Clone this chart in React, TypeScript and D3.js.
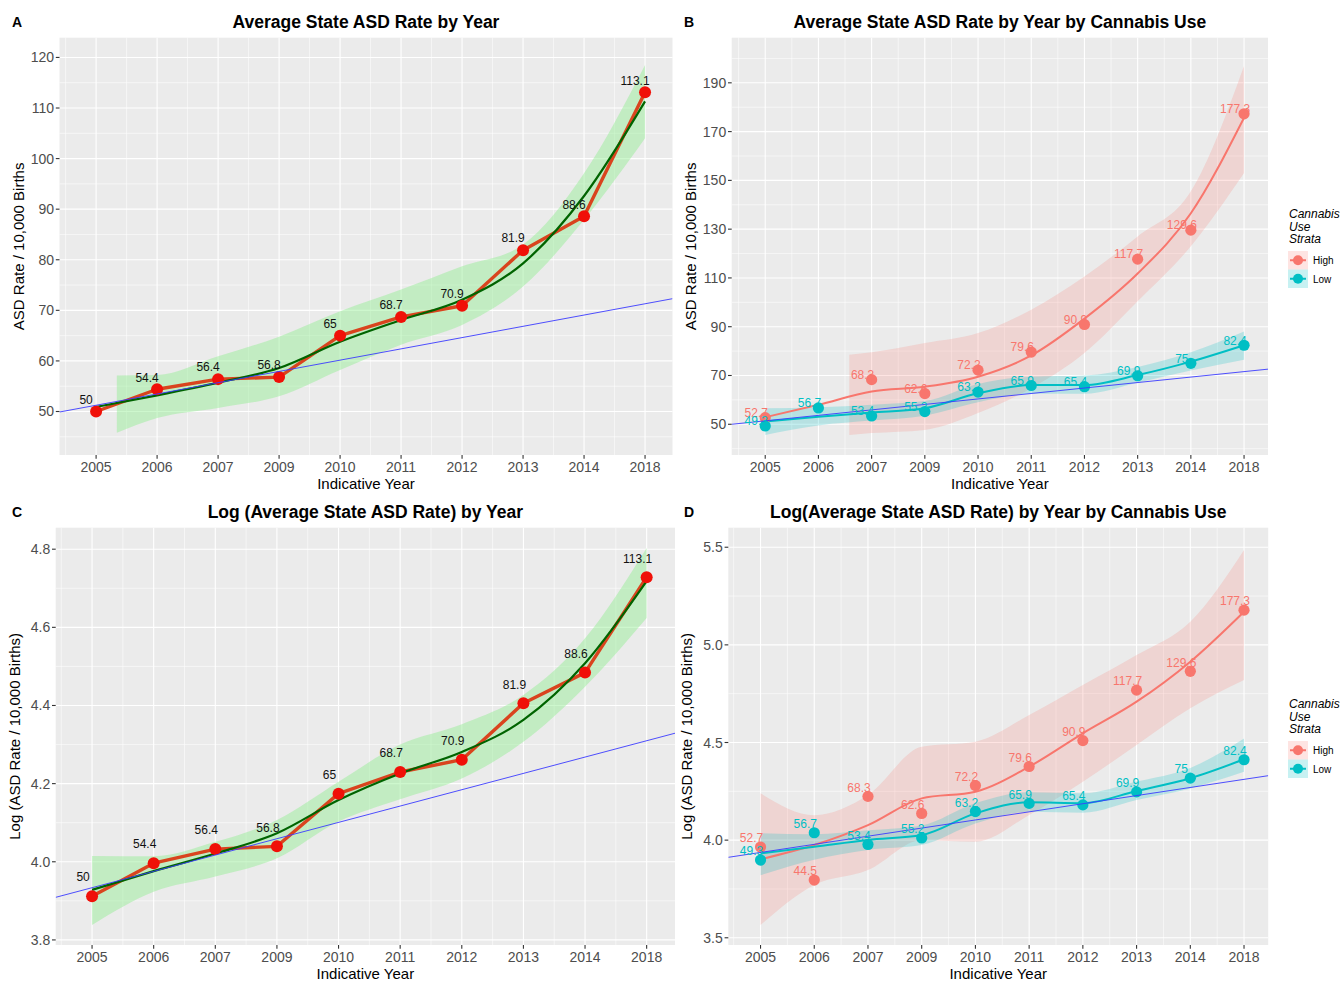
import React from 'react';
import * as d3 from 'd3';

// ---- data -------------------------------------------------------------
const years = ['2005', '2006', '2007', '2009', '2010', '2011', '2012', '2013', '2014', '2018'];
const rateAll = [50, 54.4, 56.4, 56.8, 65, 68.7, 70.9, 81.9, 88.6, 113.1];
const rateHigh = [52.7, 44.5, 68.3, 62.6, 72.2, 79.6, 90.9, 117.7, 129.6, 177.3];
const rateLow = [49.3, 56.7, 53.4, 55.2, 63.2, 65.9, 65.4, 69.9, 75, 82.4];
// panel B omits the 2006 high-use point
const rateHighB = [52.7, null, 68.3, 62.6, 72.2, 79.6, 90.9, 117.7, 129.6, 177.3];

const fitX = [0, 1, 2, 3, 4, 5, 6, 7, 8, 9];

// A: loess fit + band (raw)
const fitA = [50.9, 53.2, 55.7, 58.6, 63.8, 68.1, 72.1, 79.3, 92.6, 111.3];
const bandXA = [0.34, 1, 2, 3, 4, 5, 6, 7, 8, 9];
const bandHiA = [57.1, 57.2, 60.9, 64.8, 69.8, 74.1, 78.7, 83.0, 97.1, 118.5];
const bandLoA = [45.8, 48.7, 50.7, 53.0, 58.2, 63.2, 67.1, 74.7, 87.9, 104];
const refA = [49.9, 72.3];

// B: fits per strata (raw)
const fitHighB = [52.9, 58.0, 63.4, 65.4, 69.5, 78.2, 93.3, 111.8, 136.5, 175.7];
const bandXHighB = [1.58, 2, 3, 4, 5, 6, 7, 8, 9];
const bandHiHighB = [78.5, 79.5, 83.3, 87.4, 97, 110.6, 127, 145.5, 196.9];
const bandLoHighB = [45.6, 46.4, 47.7, 54.6, 64.8, 79.2, 100.4, 123, 153];
const fitLowB = [51.1, 53.1, 54.8, 56.6, 62.7, 66.1, 66.1, 70.2, 75.7, 82.4];
const bandHiLowB = [56.6, 57, 58, 59.5, 66.5, 69.5, 70, 73.5, 79.5, 88];
const bandLoLowB = [45.6, 49.5, 51.5, 53.5, 59, 62.5, 62.5, 67, 72, 76.5];
const refB = [50, 72.6];

// C: fit + band (log)
const fitC = [3.928, 3.976, 4.021, 4.073, 4.158, 4.226, 4.281, 4.363, 4.508, 4.718];
const bandHiC = [4.015, 4.014, 4.051, 4.107, 4.205, 4.300, 4.352, 4.427, 4.572, 4.803];
const bandLoC = [3.838, 3.923, 3.962, 4.009, 4.103, 4.160, 4.213, 4.307, 4.448, 4.624];
const refC = [3.909, 4.329];

// D: fits per strata (log)
const fitHighD = [3.902, 3.975, 4.077, 4.214, 4.248, 4.376, 4.547, 4.709, 4.914, 5.170];
const bandHiHighD = [4.240, 4.128, 4.231, 4.478, 4.504, 4.641, 4.795, 4.948, 5.119, 5.486];
const bandLoHighD = [3.565, 3.770, 3.847, 4.0, 3.992, 4.129, 4.299, 4.487, 4.675, 4.820];
const fitLowD = [3.932, 3.966, 4.001, 4.026, 4.137, 4.194, 4.189, 4.252, 4.317, 4.414];
const bandHiLowD = [4.035, 4.03, 4.05, 4.075, 4.19, 4.245, 4.24, 4.30, 4.37, 4.52];
const bandLoLowD = [3.82, 3.90, 3.95, 3.975, 4.085, 4.145, 4.14, 4.205, 4.265, 4.35];
const refD = [3.912, 4.330];

const strataLabels = ['High', 'Low'];

// ---- styles -------------------------------------------------------------
const FONT = 'Liberation Sans, Arial, sans-serif';
const HIGH = '#F8766D';
const LOW = '#00BFC4';

type Series = {
  values: (number | null)[];
  labels: (number | null)[];
  fit: number[];
  bandX: number[];
  bandHi: number[];
  bandLo: number[];
  fill: string;
  fillOpacity: number;
  fitColor: string;
  fitWidth: number;
  pointColor: string;
  labelColor: string;
  connect?: string;
  r: number;
};

type PanelProps = {
  id: string;
  letter: string;
  letterX: number;
  title: string;
  yTitle: string;
  left: number;
  right: number;
  top: number;
  bottom: number;
  xDomain: [number, number];
  yDomain: [number, number];
  yTicks: number[];
  yMinor: number[];
  yFmt: (v: number) => string;
  ref2: number[];
  series: Series[];
  labelDx: number;
  labelDy: number;
  legendY?: number;
};

function Panel(p: PanelProps) {
  const x = d3.scaleLinear().domain(p.xDomain).range([p.left, p.right]);
  const y = d3.scaleLinear().domain(p.yDomain).range([p.bottom, p.top]);
  const cx = (p.left + p.right) / 2;
  const cy = (p.top + p.bottom) / 2;
  const xMinor = d3.range(-0.5, p.xDomain[1], 1);
  const curve = d3.curveMonotoneX;

  return (
    <g>
      <defs>
        <clipPath id={`clip-${p.id}`}>
          <rect x={p.left} y={p.top} width={p.right - p.left} height={p.bottom - p.top} />
        </clipPath>
      </defs>
      <text x={p.letterX} y={p.top - 11} fontFamily={FONT} fontWeight="bold" fontSize={14}>
        {p.letter}
      </text>
      <text x={cx} y={p.top - 10} textAnchor="middle" fontFamily={FONT} fontWeight="bold" fontSize={17.5}>
        {p.title}
      </text>
      <rect x={p.left} y={p.top} width={p.right - p.left} height={p.bottom - p.top} fill="#EBEBEB" />
      {p.yMinor.map((v) => (
        <line key={'ym' + v} x1={p.left} x2={p.right} y1={y(v)} y2={y(v)} stroke="#fff" strokeWidth={0.55} />
      ))}
      {xMinor.map((v) => (
        <line key={'xm' + v} x1={x(v)} x2={x(v)} y1={p.top} y2={p.bottom} stroke="#fff" strokeWidth={0.55} />
      ))}
      {p.yTicks.map((v) => (
        <line key={'yM' + v} x1={p.left} x2={p.right} y1={y(v)} y2={y(v)} stroke="#fff" strokeWidth={1.1} />
      ))}
      {fitX.map((v) => (
        <line key={'xM' + v} x1={x(v)} x2={x(v)} y1={p.top} y2={p.bottom} stroke="#fff" strokeWidth={1.1} />
      ))}
      <g clipPath={`url(#clip-${p.id})`}>
        {p.series.map((s, si) => {
          const band = d3
            .area<number>()
            .x((d) => x(d))
            .y0((_, i) => y(s.bandLo[i]))
            .y1((_, i) => y(s.bandHi[i]))
            .curve(curve);
          return (
            <path key={'band' + si} d={band(s.bandX) || ''} fill={s.fill} fillOpacity={s.fillOpacity} />
          );
        })}
        {p.series.map((s, si) =>
          s.connect ? (
            <path
              key={'conn' + si}
              d={
                d3
                  .line<number | null>()
                  .defined((d) => d != null)
                  .x((_, i) => x(i))
                  .y((d) => y(d as number))(s.values) || ''
              }
              fill="none"
              stroke={s.connect}
              strokeWidth={3.4}
              strokeLinejoin="round"
            />
          ) : null
        )}
        {p.series.map((s, si) => (
          <path
            key={'fit' + si}
            d={
              d3
                .line<number>()
                .x((_, i) => x(fitX[i]))
                .y((d) => y(d))
                .curve(curve)(s.fit) || ''
            }
            fill="none"
            stroke={s.fitColor}
            strokeWidth={s.fitWidth}
          />
        ))}
        {p.series.map((s, si) =>
          s.values.map((v, i) =>
            v == null ? null : <circle key={`pt${si}-${i}`} cx={x(i)} cy={y(v)} r={s.r} fill={s.pointColor} />
          )
        )}
        <line
          x1={x(p.xDomain[0])}
          x2={x(p.xDomain[1])}
          y1={y(p.ref2[0])}
          y2={y(p.ref2[1])}
          stroke="#3B3BFF"
          strokeWidth={0.9}
        />
        {p.series.map((s, si) =>
          s.values.map((v, i) =>
            v == null ? null : (
              <text
                key={`lb${si}-${i}`}
                x={x(i) + p.labelDx}
                y={y(v) + p.labelDy + 4.3}
                textAnchor="middle"
                fontFamily={FONT}
                fontSize={12}
                fill={s.labelColor}
              >
                {s.labels[i]}
              </text>
            )
          )
        )}
      </g>
      {/* axes */}
      {p.yTicks.map((v) => (
        <g key={'yt' + v}>
          <line x1={p.left - 3.7} x2={p.left} y1={y(v)} y2={y(v)} stroke="#333" strokeWidth={1.1} />
          <text
            x={p.left - 5.5}
            y={y(v) + 5}
            textAnchor="end"
            fontFamily={FONT}
            fontSize={14}
            fill="#4D4D4D"
          >
            {p.yFmt(v)}
          </text>
        </g>
      ))}
      {years.map((yr, i) => (
        <g key={'xt' + yr}>
          <line x1={x(i)} x2={x(i)} y1={p.bottom} y2={p.bottom + 3.7} stroke="#333" strokeWidth={1.1} />
          <text x={x(i)} y={p.bottom + 17} textAnchor="middle" fontFamily={FONT} fontSize={14} fill="#4D4D4D">
            {yr}
          </text>
        </g>
      ))}
      <text x={cx} y={p.bottom + 34} textAnchor="middle" fontFamily={FONT} fontSize={15}>
        Indicative Year
      </text>
      <text
        transform={`translate(${p.left - 36},${cy}) rotate(-90)`}
        textAnchor="middle"
        fontFamily={FONT}
        fontSize={15}
      >
        {p.yTitle}
      </text>
      {p.legendY != null ? <Legend y0={p.legendY} series={p.series} /> : null}
    </g>
  );
}

function Legend({ y0, series }: { y0: number; series: Series[] }) {
  const x0 = 1288;
  return (
    <g fontFamily={FONT}>
      {['Cannabis', 'Use', 'Strata'].map((t, i) => (
        <text key={t} x={x0 + 1} y={y0 + i * 12.5} fontSize={12} fontStyle="italic">
          {t}
        </text>
      ))}
      {series.map((s, i) => {
        const ky = y0 + 33 + i * 18.5;
        return (
          <g key={'lg' + i}>
            <rect x={x0} y={ky} width={20} height={18.5} fill={s.fill} fillOpacity={s.fillOpacity} />
            <line x1={x0 + 2} x2={x0 + 18} y1={ky + 9.25} y2={ky + 9.25} stroke={s.fitColor} strokeWidth={2} />
            <circle cx={x0 + 10} cy={ky + 9.25} r={5} fill={s.pointColor} />
            <text x={x0 + 25} y={ky + 13} fontSize={10}>
              {strataLabels[i]}
            </text>
          </g>
        );
      })}
    </g>
  );
}

const log = (a: (number | null)[]) => a.map((v) => (v == null ? null : Math.log(v)));

export default function App() {
  const single = (values: (number | null)[], fit: number[], bandX: number[], hi: number[], lo: number[]): Series => ({
    values,
    labels: rateAll,
    fit,
    bandX,
    bandHi: hi,
    bandLo: lo,
    fill: '#90EE90',
    fillOpacity: 0.45,
    fitColor: '#006400',
    fitWidth: 2.2,
    pointColor: '#F01008',
    labelColor: '#111',
    connect: '#D9441E',
    r: 6,
  });
  const strata = (
    values: (number | null)[],
    labels: (number | null)[],
    fit: number[],
    bandX: number[],
    hi: number[],
    lo: number[],
    color: string,
    op: number
  ): Series => ({
    values,
    labels,
    fit,
    bandX,
    bandHi: hi,
    bandLo: lo,
    fill: color,
    fillOpacity: op,
    fitColor: color,
    fitWidth: 2,
    pointColor: color,
    labelColor: color,
    r: 5.6,
  });

  const int = (v: number) => String(v);
  const one = d3.format('.1f');

  return (
    <div style={{ position: 'absolute', left: 0, top: 0 }}>
      <svg width={1341} height={981} style={{ display: 'block', background: '#fff' }}>
        <Panel
          id="a"
          letter="A"
          letterX={12}
          title="Average State ASD Rate by Year"
          yTitle="ASD Rate / 10,000 Births"
          left={59.5}
          right={672.5}
          top={37.7}
          bottom={455}
          xDomain={[-0.6, 9.45]}
          yDomain={[41.4, 123.9]}
          yTicks={[50, 60, 70, 80, 90, 100, 110, 120]}
          yMinor={[45, 55, 65, 75, 85, 95, 105, 115]}
          yFmt={int}
          ref2={refA}
          labelDx={-10}
          labelDy={-12}
          series={[single(rateAll, fitA, bandXA, bandHiA, bandLoA)]}
        />
        <Panel
          id="b"
          letter="B"
          letterX={684}
          title="Average State ASD Rate by Year by Cannabis Use"
          yTitle="ASD Rate / 10,000 Births"
          left={731.7}
          right={1268}
          top={37.7}
          bottom={455}
          xDomain={[-0.63, 9.45]}
          yDomain={[37.4, 208.5]}
          yTicks={[50, 70, 90, 110, 130, 150, 170, 190]}
          yMinor={[40, 60, 80, 100, 120, 140, 160, 180, 200]}
          yFmt={int}
          ref2={refB}
          labelDx={-9}
          labelDy={-5}
          legendY={218}
          series={[
            strata(rateHighB, rateHighB, fitHighB, bandXHighB, bandHiHighB, bandLoHighB, HIGH, 0.2),
            strata(rateLow, rateLow, fitLowB, fitX, bandHiLowB, bandLoLowB, LOW, 0.22),
          ]}
        />
        <Panel
          id="c"
          letter="C"
          letterX={12}
          title="Log (Average State ASD Rate) by Year"
          yTitle="Log (ASD Rate / 10,000 Births)"
          left={55.7}
          right={675}
          top={527.7}
          bottom={945}
          xDomain={[-0.59, 9.46]}
          yDomain={[3.787, 4.855]}
          yTicks={[3.8, 4.0, 4.2, 4.4, 4.6, 4.8]}
          yMinor={[3.9, 4.1, 4.3, 4.5, 4.7]}
          yFmt={one}
          ref2={refC}
          labelDx={-9}
          labelDy={-19}
          series={[single(log(rateAll), fitC, fitX, bandHiC, bandLoC)]}
        />
        <Panel
          id="d"
          letter="D"
          letterX={684}
          title="Log(Average State ASD Rate) by Year by Cannabis Use"
          yTitle="Log (ASD Rate / 10,000 Births)"
          left={728.3}
          right={1268.2}
          top={527.7}
          bottom={945}
          xDomain={[-0.6, 9.45]}
          yDomain={[3.463, 5.6]}
          yTicks={[3.5, 4.0, 4.5, 5.0, 5.5]}
          yMinor={[3.75, 4.25, 4.75, 5.25]}
          yFmt={one}
          ref2={refD}
          labelDx={-9}
          labelDy={-9}
          legendY={708}
          series={[
            strata(log(rateHigh), rateHigh, fitHighD, fitX, bandHiHighD, bandLoHighD, HIGH, 0.2),
            strata(log(rateLow), rateLow, fitLowD, fitX, bandHiLowD, bandLoLowD, LOW, 0.22),
          ]}
        />
      </svg>
    </div>
  );
}
